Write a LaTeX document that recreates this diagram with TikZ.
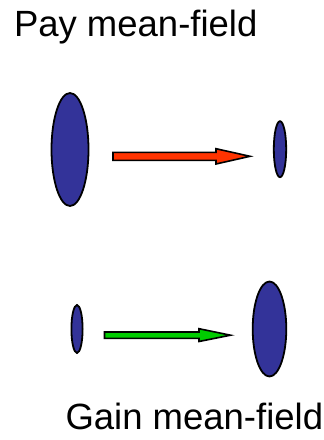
\documentclass[tikz,border=0pt]{standalone}
\usepackage{fontspec}
\setmainfont{Liberation Sans}
\definecolor{blob}{RGB}{51,51,153}
\definecolor{redarrow}{RGB}{255,51,0}
\definecolor{greenarrow}{RGB}{0,204,0}
\begin{document}
\begin{tikzpicture}[x=1pt,y=-1pt,
  blobstyle/.style={draw=black,line width=1.8pt,fill=blob},
  label/.style={inner sep=0pt,anchor=base west,font=\fontsize{36.5pt}{40pt}\selectfont},
  blockarrow/.style={draw=black,line width=1.6pt,line join=miter}]
\useasboundingbox (0,0) rectangle (324,440);
% titles
\node[label] (pay) at (13.8,36.7) {Pay mean-field};
\node[label] (gain) at (65.3,429.3) {Gain mean-field};
% top row
\draw[blobstyle] (70,149.5) ellipse [x radius=18.5, y radius=56.5];
\draw[blobstyle] (280,149.2) ellipse [x radius=6.2, y radius=28];
% red block arrow
\draw[blockarrow,fill=redarrow]
  (113,152.3) -- (216,152.3) -- (216,148.7) -- (250,156.3) -- (216,164) -- (216,160.3) -- (113,160.3) -- cycle;
% bottom row
\draw[blobstyle] (77,329) ellipse [x radius=5.6, y radius=24];
\draw[blobstyle] (269.5,329) ellipse [x radius=16.8, y radius=47.5];
% green block arrow
\draw[blockarrow,fill=greenarrow]
  (104.5,332) -- (199,332) -- (199,328.7) -- (230.5,335.2) -- (199,341.5) -- (199,338.4) -- (104.5,338.4) -- cycle;
\end{tikzpicture}
\end{document}
